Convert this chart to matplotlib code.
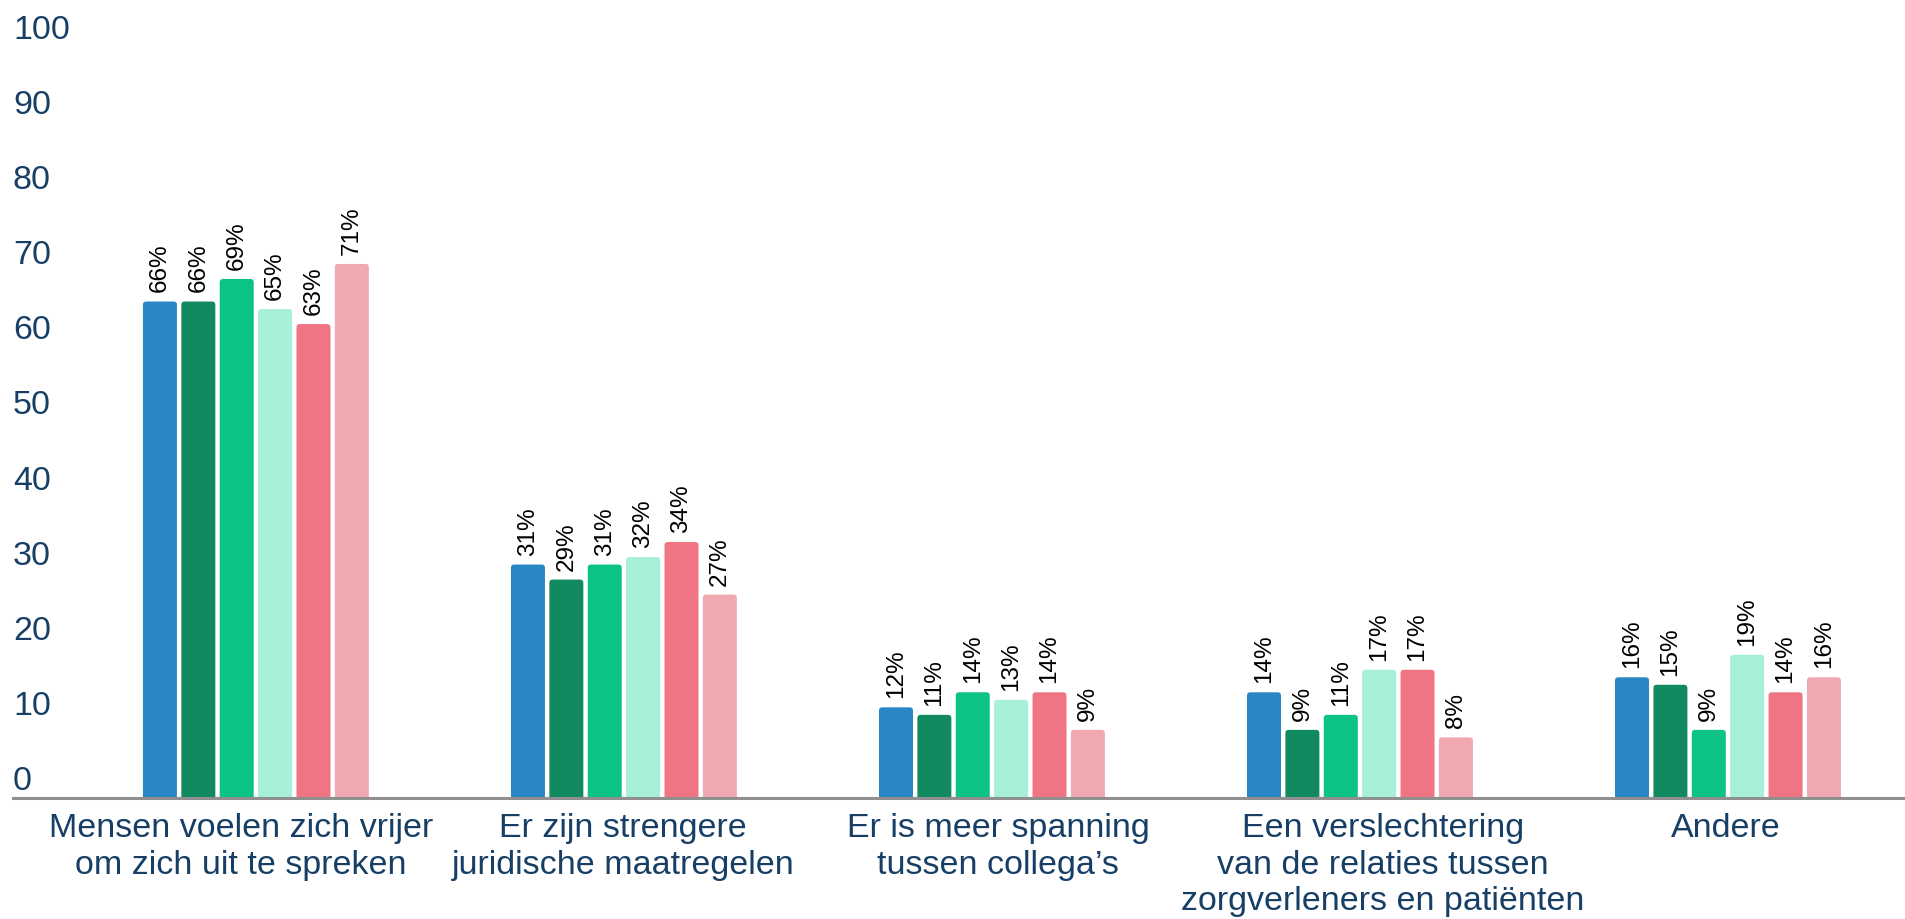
import matplotlib
matplotlib.use("Agg")
import matplotlib.pyplot as plt
from matplotlib.patches import FancyBboxPatch
import matplotlib.transforms as mtransforms
import numpy as np

plt.rcParams['font.family'] = ['Liberation Sans', 'DejaVu Sans']

categories = [
    "Mensen voelen zich vrijer\nom zich uit te spreken",
    "Er zijn strengere\njuridische maatregelen",
    "Er is meer spanning\ntussen collega’s",
    "Een verslechtering\nvan de relaties tussen\nzorgverleners en patiënten",
    "Andere",
]
series1 = [66, 31, 12, 14, 16]
series2 = [66, 29, 11, 9, 15]
series3 = [69, 31, 14, 11, 9]
series4 = [65, 32, 13, 17, 19]
series5 = [63, 34, 14, 17, 14]
series6 = [71, 27, 9, 8, 16]
series = [series1, series2, series3, series4, series5, series6]
colors = ["#2887C4", "#128A5F", "#0BC386", "#A8F0D7", "#EF7585", "#F0A9B0"]
yticks = [0, 10, 20, 30, 40, 50, 60, 70, 80, 90, 100]
label_shift_px = [-15, -1, 6, 23, -2]

navy = "#173F66"
W, H = 1905, 919
fig = plt.figure(figsize=(W / 100, H / 100), dpi=100)
left_px, right_px, top_px, bot_px = 13, 1905, 46, 797.5
ax = fig.add_axes([left_px / W, 1 - bot_px / H, (right_px - left_px) / W, (bot_px - top_px) / H])

x = np.arange(len(categories))
pitch = 0.1043
bw = 0.0924
for i, (vals, c) in enumerate(zip(series, colors)):
    bars = ax.bar(x + (i - 2.5) * pitch, vals, width=bw, color=c)
    for rect, v in zip(bars, vals):
        bx, bwid, bh = rect.get_x(), rect.get_width(), rect.get_height()
        rect.remove()
        p = FancyBboxPatch((bx, -2), bwid, bh + 2,
                           boxstyle="round,pad=0,rounding_size=0.009",
                           mutation_aspect=49, facecolor=c, edgecolor='none')
        ax.add_patch(p)
        ax.annotate(f"{v}%", (bx + bwid / 2, bh), xytext=(0, 6.5),
                    textcoords='offset points', rotation=90,
                    ha='center', va='bottom', fontsize=17.5, color='black')

ax.set_xlim(-0.660, 4.481)
ax.set_ylim(0, 100)
for s in ['top', 'right', 'left']:
    ax.spines[s].set_visible(False)
ax.spines['bottom'].set_color('#8F8F8F')
ax.spines['bottom'].set_linewidth(2.2)
ax.set_yticks([])
ax.set_xticks([])

for xi, lab, dx in zip(x, categories, label_shift_px):
    ax.annotate(lab, xy=(xi, 0), xycoords=('data', 'axes fraction'),
                xytext=(dx * 0.72, -11), textcoords='offset points',
                ha='center', va='top', multialignment='center',
                fontsize=24.5, color=navy, linespacing=1.24, annotation_clip=False)

trans = mtransforms.blended_transform_factory(ax.transAxes, ax.transData)
for t in yticks:
    ax.text(0, t + 0.98, str(t), transform=trans, ha='left', va='baseline',
            fontsize=24.5, color=navy, clip_on=False)

fig.savefig("out.png", dpi=100)
